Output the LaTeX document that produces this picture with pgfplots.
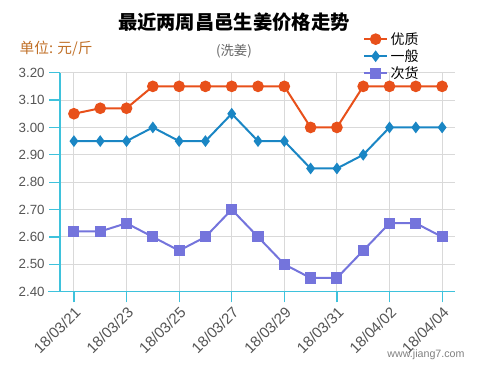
\documentclass[border=0pt]{standalone}
\usepackage{pgfplots}
\pgfplotsset{compat=1.18}
\usepackage{fontspec}
\setmainfont{Liberation Sans}
\newfontfamily\cjk{Noto Sans CJK SC}
\definecolor{cA}{HTML}{E8501A}
\definecolor{cB}{HTML}{1A86C4}
\definecolor{cC}{HTML}{7474DC}
\definecolor{axc}{HTML}{3EC2DC}
\definecolor{tickc}{HTML}{555555}
\definecolor{unitc}{HTML}{C07028}
\begin{document}
\begin{tikzpicture}[x=0.75pt,y=0.75pt]
\path[use as bounding box] (0,0) rectangle (480,369);
\begin{axis}[
  at={(45pt,58pt)}, anchor=south west,
  scale only axis, width=296.25pt, height=164.25pt,
  xmin=-0.53, xmax=14.49, ymin=2.40, ymax=3.20,
  ytick={2.40,2.50,...,3.21},
  yticklabel style={/pgf/number format/fixed, /pgf/number format/fixed zerofill, /pgf/number format/precision=2, font=\fontsize{10}{12}\selectfont, text=tickc},
  xtick={0,2,...,14},
  xticklabels={18/03/21,18/03/23,18/03/25,18/03/27,18/03/29,18/03/31,18/04/02,18/04/04},
  xticklabel style={rotate=45, anchor=north east, font=\fontsize{11.3}{13}\selectfont, text=tickc, inner sep=1.5pt},
  /pgf/number format/assume math mode=true,
  axis x line*=bottom, axis y line*=left,
  axis line style={axc, line width=0.9pt, -},
  tick style={axc, line width=0.9pt},
  tick align=outside, major tick length=8pt,
  grid=major, major grid style={draw=black!15, line width=0.8pt},
  clip=false,
  legend style={at={(0.757,1.21)}, anchor=north west, draw=none, fill=none,
     font=\cjk\fontsize{10.5}{12}\selectfont, row sep=-1.5pt},
  legend cell align=left,
]
\addplot[cA, line width=1.5pt, mark=*, mark size=3.6pt, mark options={fill=cA}] coordinates {
(0,3.05)(1,3.07)(2,3.07)(3,3.15)(4,3.15)(5,3.15)(6,3.15)(7,3.15)(8,3.15)(9,3.00)(10,3.00)(11,3.15)(12,3.15)(13,3.15)(14,3.15)};
\addlegendentry{优质}
\addplot[cB, line width=1.5pt, mark=diamond*, mark size=3.2pt, mark options={fill=cB}] coordinates {
(0,2.95)(1,2.95)(2,2.95)(3,3.00)(4,2.95)(5,2.95)(6,3.05)(7,2.95)(8,2.95)(9,2.85)(10,2.85)(11,2.90)(12,3.00)(13,3.00)(14,3.00)};
\addlegendentry{一般}
\addplot[cC, line width=1.5pt, mark=square*, mark size=3.4pt, mark options={fill=cC}] coordinates {
(0,2.62)(1,2.62)(2,2.65)(3,2.60)(4,2.55)(5,2.60)(6,2.70)(7,2.60)(8,2.50)(9,2.45)(10,2.45)(11,2.55)(12,2.65)(13,2.65)(14,2.60)};
\addlegendentry{次货}
\draw[axc, line width=0.9pt] (rel axis cs:-0.03,0) -- (rel axis cs:0,0);
\end{axis}
\node[font=\cjk\bfseries\fontsize{14.5}{17}\selectfont] at (234,347) {最近两周昌邑生姜价格走势};
\node[font=\cjk\fontsize{11}{13}\selectfont, text=unitc, anchor=west] at (15,320) {单位: 元/斤};
\node[font=\cjk\fontsize{10}{12}\selectfont, text=black!60] at (234,318) {(洗姜)};
\node[font=\fontsize{8}{10}\selectfont, text=black!50] at (426,14) {www.jiang7.com};
\end{tikzpicture}
\end{document}
